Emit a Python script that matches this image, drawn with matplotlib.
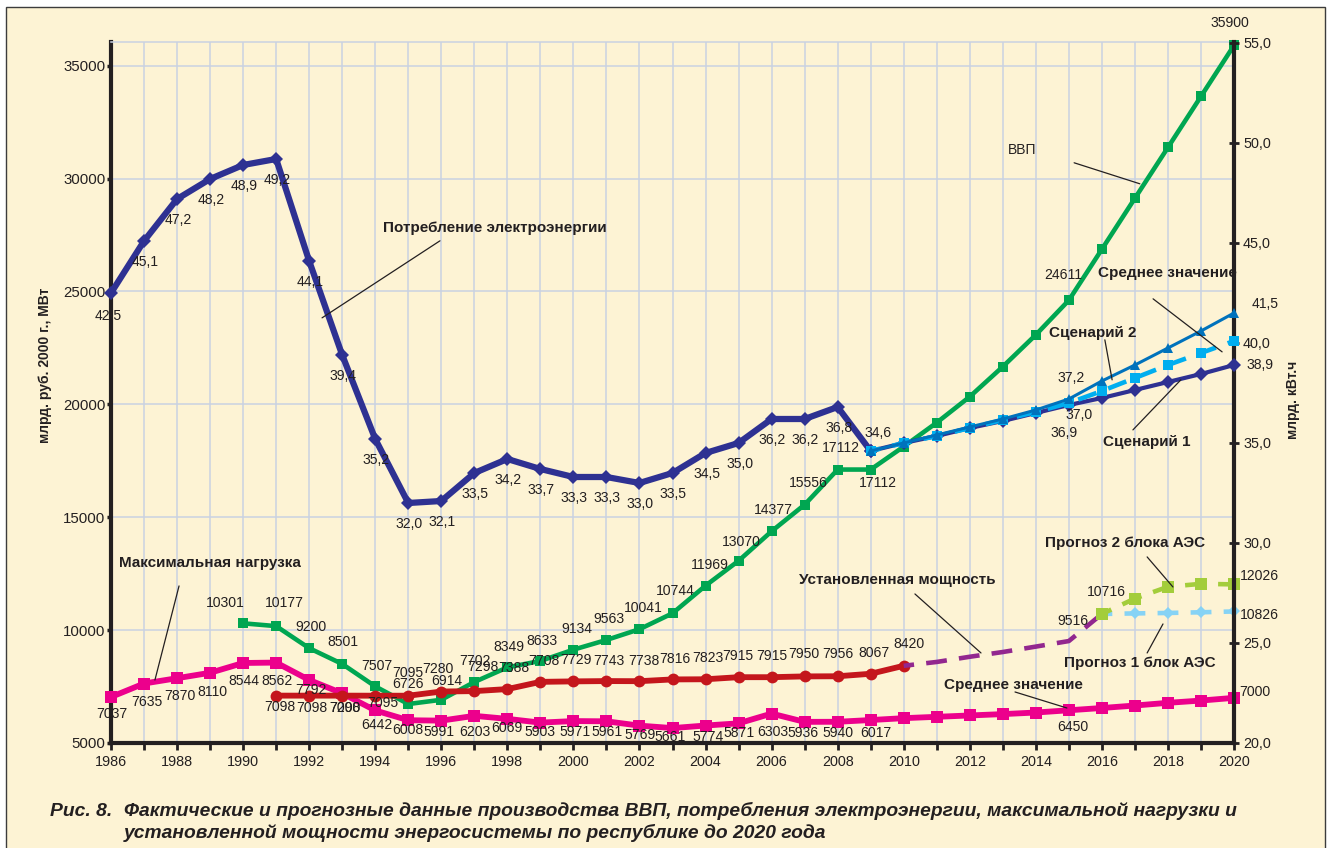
import matplotlib
matplotlib.use("Agg")
import matplotlib.pyplot as plt
from matplotlib.patches import Rectangle
from matplotlib.ticker import MultipleLocator, FuncFormatter

# ---- values ----
years_cons = list(range(1986, 2010))
consumption = [42.5, 45.1, 47.2, 48.2, 48.9, 49.2, 44.1, 39.4, 35.2, 32.0, 32.1, 33.5,
               34.2, 33.7, 33.3, 33.3, 33.0, 33.5, 34.5, 35.0, 36.2, 36.2, 36.8, 34.6]

years_scen = list(range(2009, 2021))
scenario1 = [34.6, 35.0, 35.35, 35.75, 36.1, 36.5, 36.9, 37.25, 37.65, 38.05, 38.45, 38.9]
scenario2 = [34.6, 35.0, 35.4, 35.8, 36.2, 36.65, 37.2, 38.1, 38.9, 39.75, 40.6, 41.5]
scenario_mean = [34.6, 35.0, 35.35, 35.75, 36.15, 36.55, 37.0, 37.6, 38.25, 38.9, 39.5, 40.1]

years_gdp = list(range(1990, 2021))
gdp = [10301, 10177, 9200, 8501, 7507, 6726, 6914, 7702, 8349, 8633, 9134, 9563, 10041,
       10744, 11969, 13070, 14377, 15556, 17112, 17112, 18130, 19190, 20340, 21670, 23080,
       24611, 26870, 29130, 31380, 33640, 35900]

years_load = list(range(1986, 2021))
max_load = [7037, 7635, 7870, 8110, 8544, 8562, 7792, 7200, 6442, 6008, 5991, 6203, 6069,
            5903, 5971, 5961, 5769, 5661, 5774, 5871, 6303, 5936, 5940, 6017, 6100, 6160,
            6220, 6280, 6350, 6450, 6550, 6660, 6780, 6880, 7000]

years_inst = list(range(1991, 2011))
installed = [7098, 7098, 7098, 7095, 7095, 7280, 7298, 7388, 7708, 7729, 7743, 7738, 7816,
             7823, 7915, 7915, 7950, 7956, 8067, 8420]

years_inst_fc = list(range(2010, 2017))
installed_fc = [8420, 8590, 8820, 9030, 9270, 9516, 10716]

years_npp = list(range(2016, 2021))
npp_one_block = [10716, 10740, 10760, 10790, 10826]
npp_two_blocks = [10716, 11400, 11920, 12050, 12026]

# which points carry a value label, and where (pixels right / down of the point)
cons_off = {y: (1, 21) for y in years_cons}
cons_off[1986] = (-3, 23)
cons_off[2009] = (7, -18)
sc1_off = {2015: (-5, 28), 2020: (26, 0)}
sc2_off = {2015: (2, -21), 2020: (31, -9)}
mean_off = {2015: (10, 12)}
gdp_off = {1990: (-18, -20), 1991: (8, -23), 1992: (2, -21), 1993: (1, -22), 1994: (2, -20),
           1995: (0, -20), 1996: (6, -19), 1997: (1, -21), 1998: (2, -20), 1999: (2, -20),
           2000: (3, -21), 2001: (2, -21), 2002: (4, -21), 2003: (3, -22), 2004: (4, -21),
           2005: (3, -19), 2006: (2, -21), 2007: (4, -22), 2008: (3, -22), 2009: (7, 13),
           2015: (-6, -25), 2020: (-4, -22)}
load_off = {1986: (1, 17), 1987: (3, 18), 1988: (3, 18), 1989: (2, 19), 1990: (1, 18),
            1991: (1, 18), 1992: (2, 10), 1993: (3, 15), 1994: (2, 15), 1995: (0, 10),
            1996: (-2, 11), 1997: (1, 16), 1998: (0, 9), 1999: (0, 9), 2000: (2, 11),
            2001: (1, 11), 2002: (1, 9), 2003: (-2, 9), 2004: (3, 11), 2005: (0, 10),
            2006: (1, 18), 2007: (-2, 11), 2008: (0, 11), 2009: (5, 13), 2015: (4, 17),
            2020: (21, -6)}
inst_off = {1991: (4, 11), 1992: (3, 12), 1993: (3, 12), 1994: (8, 7), 1995: (0, -23),
            1996: (-3, -23), 1997: (9, -24), 1998: (6, -21), 1999: (3, -21), 2000: (3, -21),
            2001: (2, -20), 2002: (4, -20), 2003: (2, -20), 2004: (2, -21), 2005: (-1, -21),
            2006: (0, -21), 2007: (-1, -22), 2008: (0, -22), 2009: (3, -21), 2010: (5, -22)}
inst_fc_off = {2015: (4, -20), 2016: (4, -22)}
npp1_off = {2020: (25, 4)}
npp2_off = {2020: (25, -8)}

# callout texts: text, text centre, leader start, leader end (left-axis data coords)
callouts = [
    ("Потребление электроэнергии", (1997.63, 27820), (1995.96, 27244), (1992.39, 23832), "bold"),
    ("ВВП", (2013.58, 31276), (2015.16, 30700), (2017.15, 29769), "normal"),
    ("Среднее значение", (2017.97, 25826), (2017.55, 24674), (2019.64, 22325), "bold"),
    ("Сценарий 2", (2015.73, 23167), (2016.09, 22857), (2016.31, 21085), "bold"),
    ("Сценарий 1", (2017.37, 18337), (2016.94, 18869), (2018.39, 21085), "bold"),
    ("Максимальная нагрузка", (1989.0, 12976), (1988.06, 11957), (1987.33, 7791), "bold"),
    ("Установленная мощность", (2009.80, 12222), (2010.34, 11602), (2012.34, 8988), "bold"),
    ("Прогноз 2 блока АЭС", (2016.70, 13862), (2017.37, 13242), (2018.15, 11912), "bold"),
    ("Прогноз 1 блок АЭС", (2017.15, 8545), (2017.37, 8988), (2017.85, 10273), "bold"),
    ("Среднее значение", (2013.31, 7570), (2013.37, 7260), (2014.94, 6551), "bold"),
]

# ---- style ----
FONT = ["Liberation Sans", "DejaVu Sans"]
plt.rcParams["font.family"] = FONT
plt.rcParams["lines.scale_dashes"] = False
BG = "#FDF3D4"
GRID = "#C9D2E2"
TXT = "#231F20"
NAVY = "#2E3192"
GREEN = "#00A651"
MAGENTA = "#EC008C"
RED = "#C4161C"
PURPLE = "#92278F"
SC2 = "#0072BC"
MEAN = "#00AEEF"
NPP1 = "#86D3F5"
NPP2 = "#A3CD3B"
LBL = 10.1

W, H = 1330, 848
fig = plt.figure(figsize=(W / 100, H / 100), dpi=100)
fig.patch.set_facecolor("white")
fig.add_artist(Rectangle((6 / W, -0.01), 1319 / W, 1 - 7 / H + 0.01, transform=fig.transFigure,
                         facecolor=BG, edgecolor="#3C3C3C", lw=1.0, zorder=-10))

ax = fig.add_axes([111 / W, 1 - 743 / H, 1123 / W, 701 / H])
ax.set_facecolor(BG)
ax2 = ax.twinx()

ax.set_xlim(1986, 2020)
ax.set_ylim(5000, 36050)
ax2.set_ylim(20, 55.05)

ax.set_xticks(range(1986, 2021, 2))
ax.set_xticks(range(1986, 2021), minor=True)
ax.yaxis.set_major_locator(MultipleLocator(5000))
ax2.yaxis.set_major_locator(MultipleLocator(5))
ax2.yaxis.set_major_formatter(FuncFormatter(lambda v, p: f"{v:.1f}".replace(".", ",")))

ax.set_axisbelow(True)
ax.grid(axis="x", which="both", color=GRID, lw=1.1)
ax.grid(axis="y", which="major", color=GRID, lw=1.1)

for s in ("left", "bottom"):
    ax.spines[s].set_linewidth(3)
    ax.spines[s].set_color(TXT)
ax.spines["top"].set_color(GRID)
ax.spines["top"].set_linewidth(1.1)
ax.spines["right"].set_visible(False)
for s in ("left", "bottom", "top"):
    ax2.spines[s].set_visible(False)
ax2.spines["right"].set_linewidth(3)
ax2.spines["right"].set_color(TXT)

ax.tick_params(axis="x", which="both", direction="out", length=5, width=2, color=TXT,
               labelsize=10.4, labelcolor=TXT, pad=4)
ax.tick_params(axis="y", direction="out", length=3, width=2.5, color=TXT,
               labelsize=10.8, labelcolor=TXT, pad=1)
ax2.tick_params(axis="y", direction="inout", length=7, width=2, color=TXT,
                labelsize=10.4, labelcolor=TXT, pad=3)

# ---- series on the left axis ----
ax.plot(years_gdp, gdp, color=GREEN, lw=3.3, marker="s", ms=7, mew=0, clip_on=False, zorder=3)
ax.plot(years_load, max_load, color=MAGENTA, lw=4.2, marker="s", ms=8.5, mew=0, clip_on=False, zorder=3)
ax.plot(years_inst, installed, color=RED, lw=4.2, marker="o", ms=8.5, mew=0, clip_on=False, zorder=3)
ax.plot(years_inst_fc, installed_fc, color=PURPLE, lw=3.3, ls=(7.5, (15, 8.8)), clip_on=False, zorder=3)
ax.plot(years_npp, npp_one_block, color=NPP1, lw=3.3, ls=(7.5, (15, 8.8)), marker="D", ms=6,
        mew=0, clip_on=False, zorder=3)
ax.plot(years_npp, npp_two_blocks, color=NPP2, lw=3.3, ls=(7.5, (15, 8.8)), marker="s", ms=8,
        mew=0, clip_on=False, zorder=3)

# ---- series on the right axis ----
ax2.plot(years_cons, consumption, color=NAVY, lw=4.5, marker="D", ms=7, mew=0, clip_on=False, zorder=3)
ax2.plot(years_scen, scenario1, color=NAVY, lw=3, marker="D", ms=7, mew=0, clip_on=False, zorder=3)
ax2.plot(years_scen, scenario_mean, color=MEAN, lw=3.3, ls=(7, (14, 9)), marker="s", ms=7.5,
         mew=0, clip_on=False, zorder=4)
ax2.plot(years_scen, scenario2, color=SC2, lw=2.2, marker="^", ms=7.5, mew=0, clip_on=False, zorder=5)


def label_points(axis, xs, ys, offsets, fmt):
    for x, y in zip(xs, ys):
        if x in offsets:
            dx, dy = offsets[x]
            axis.annotate(fmt(y), (x, y), xytext=(dx, -dy), textcoords="offset pixels",
                          ha="center", va="center", fontsize=LBL, color=TXT,
                          annotation_clip=False, zorder=6)


dec = lambda v: f"{v:.1f}".replace(".", ",")
num = lambda v: f"{v:d}"
label_points(ax, years_gdp, gdp, gdp_off, num)
label_points(ax, years_load, max_load, load_off, num)
label_points(ax, years_inst, installed, inst_off, num)
label_points(ax, years_inst_fc, installed_fc, inst_fc_off, num)
label_points(ax, years_npp, npp_one_block, npp1_off, num)
label_points(ax, years_npp, npp_two_blocks, npp2_off, num)
label_points(ax2, years_cons, consumption, cons_off, dec)
label_points(ax2, years_scen, scenario1, sc1_off, dec)
label_points(ax2, years_scen, scenario2, sc2_off, dec)
label_points(ax2, years_scen, scenario_mean, mean_off, dec)

# ---- callouts with leader lines ----
for text, pos, p0, p1, weight in callouts:
    ax2.annotate("", xy=ax2.transData.inverted().transform(ax.transData.transform(p1)),
                 xytext=ax2.transData.inverted().transform(ax.transData.transform(p0)),
                 arrowprops=dict(arrowstyle="-", lw=0.9, color=TXT, shrinkA=0, shrinkB=0),
                 annotation_clip=False, zorder=7)
    ax2.text(*ax2.transData.inverted().transform(ax.transData.transform(pos)), text,
             ha="center", va="center", fontsize=11 if weight == "bold" else 10,
             fontweight=weight, color=TXT, zorder=7, clip_on=False)

# ---- axis titles ----
fig.text(45 / W, 1 - 365 / H, "млрд. руб. 2000 г., МВт", rotation=90, ha="center", va="center",
         fontsize=10, fontweight="bold", color=TXT)
fig.text(1293 / W, 1 - 400 / H, "млрд. кВт.ч", rotation=90, ha="center", va="center",
         fontsize=10, fontweight="bold", color=TXT)

# ---- caption ----
cap = dict(fontsize=13.9, fontweight="bold", fontstyle="italic", color=TXT, va="center", ha="left")
fig.text(50 / W, 1 - 811 / H, "Рис. 8.", **cap)
fig.text(124 / W, 1 - 811 / H, "Фактические и прогнозные данные производства ВВП, потребления "
         "электроэнергии, максимальной нагрузки и", **cap)
fig.text(124 / W, 1 - 833 / H, "установленной мощности энергосистемы по республике до 2020 года", **cap)

fig.savefig("out.png", dpi=100, facecolor=fig.get_facecolor())
